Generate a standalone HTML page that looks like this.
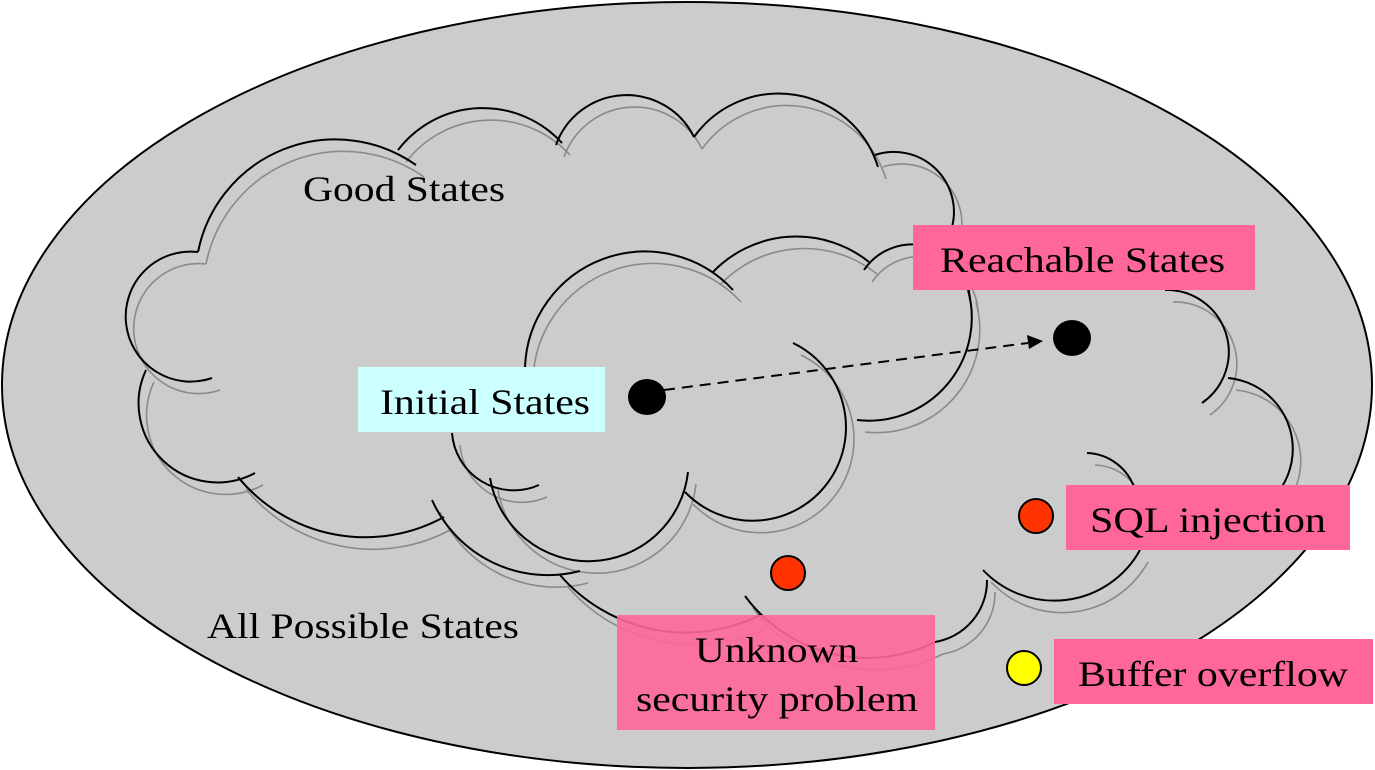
<!DOCTYPE html>
<html><head><meta charset="utf-8"><style>html,body{margin:0;padding:0;background:#fff}svg{display:block}</style></head>
<body>
<svg width="1375" height="770" viewBox="0 0 1375 770" xmlns="http://www.w3.org/2000/svg">
<defs>
<g id="arcs">
<path d="M212,378 A65,65 0 1 1 198,252"/>
<path d="M198,252 A140,140 0 0 1 416,165"/>
<path d="M398,150 A107,107 0 0 1 562,143"/>
<path d="M556,145 A75,75 0 0 1 694,137"/>
<path d="M694,137 A104,104 0 0 1 878,167"/>
<path d="M875,155 A60,60 0 0 1 952,227"/>
<path d="M255,473 A79,79 0 0 1 146,370"/>
<path d="M444,517 A164,164 0 0 1 238,477"/>
<path d="M580,571 A127,127 0 0 1 432,500"/>
<path d="M525,367 A120,120 0 0 1 733,290"/>
<path d="M712,273 A116,116 0 0 1 869,262"/>
<path d="M864,270 A58,58 0 0 1 970,300"/>
<path d="M968,290 A103,103 0 0 1 857,420"/>
<path d="M793,343 A93.5,93.5 0 1 1 685,492"/>
<path d="M688,472 A100,100 0 0 1 490,478"/>
<path d="M539,485 A62,62 0 0 1 452,433"/>
<path d="M1165,290 A62,62 0 0 1 1202,403"/>
<path d="M1228,378 A69,69 0 0 1 1215,520"/>
<path d="M1140,550 A98,98 0 0 1 983,570"/>
<path d="M987,580 A62,62 0 0 1 935,642"/>
<path d="M935,642 A152,152 0 0 1 745,596"/>
<path d="M760,615 A166,166 0 0 1 560,575"/>
<path d="M1087,453 A52,52 0 0 1 1135,490"/>
</g>
</defs>
<ellipse cx="687" cy="385" rx="685" ry="383" fill="#cccccc" stroke="#000" stroke-width="2"/>
<use href="#arcs" transform="translate(8,12)" fill="none" stroke="#8a8a8a" stroke-width="1.6"/>
<use href="#arcs" fill="none" stroke="#000" stroke-width="2"/>
<rect x="913" y="225" width="342" height="65" fill="#ff6699"/>
<rect x="358" y="367" width="247" height="65" fill="#ccffff"/>
<rect x="1066" y="485" width="284" height="65" fill="#ff6699"/>
<rect x="617" y="615" width="318" height="115" fill="#ff6699" fill-opacity="0.9"/>
<rect x="1054" y="639" width="319" height="65" fill="#ff6699"/>
<line x1="664" y1="390" x2="1028" y2="343" stroke="#000" stroke-width="2" stroke-dasharray="11,7"/>
<polygon points="1043,341 1027,335 1029,349" fill="#000"/>
<ellipse cx="647" cy="397" rx="19" ry="18" fill="#000"/>
<ellipse cx="1072" cy="338" rx="19" ry="18" fill="#000"/>
<circle cx="1036" cy="516" r="17" fill="#ff3300" stroke="#000" stroke-width="2"/>
<circle cx="788" cy="573" r="17" fill="#ff3300" stroke="#000" stroke-width="2"/>
<circle cx="1024" cy="668" r="17" fill="#ffff00" stroke="#000" stroke-width="2"/>
<g font-family="Liberation Serif, serif" font-size="36" fill="#000">
<text x="303" y="201" textLength="202" lengthAdjust="spacingAndGlyphs">Good States</text>
<text x="940" y="272" textLength="285" lengthAdjust="spacingAndGlyphs">Reachable States</text>
<text x="380" y="414" textLength="210" lengthAdjust="spacingAndGlyphs">Initial States</text>
<text x="1090" y="532" textLength="236" lengthAdjust="spacingAndGlyphs">SQL injection</text>
<text x="207" y="638" textLength="312" lengthAdjust="spacingAndGlyphs">All Possible States</text>
<text x="695" y="662" textLength="163" lengthAdjust="spacingAndGlyphs">Unknown</text>
<text x="636" y="711" textLength="282" lengthAdjust="spacingAndGlyphs">security problem</text>
<text x="1078" y="686" textLength="270" lengthAdjust="spacingAndGlyphs">Buffer overflow</text>
</g>
</svg>
</body></html>
